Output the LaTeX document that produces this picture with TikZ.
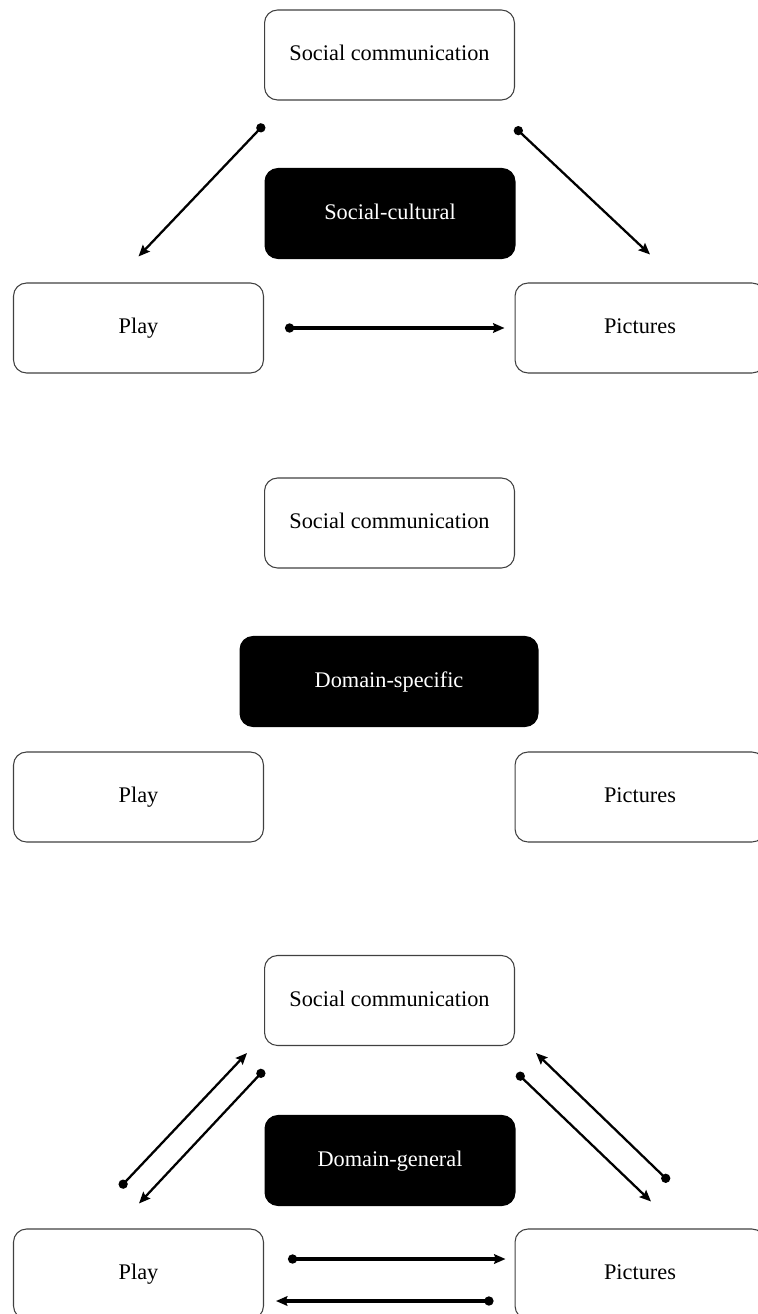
\documentclass[tikz,border=0pt]{standalone}
\usepackage{fontspec}
\setmainfont{Liberation Serif}
\usetikzlibrary{arrows.meta}

\tikzset{
    box/.style={draw=black!75, line width=0.6pt, rounded corners=0.26cm, minimum width=5cm, minimum height=1.8cm, text height=0.68em, text depth=0pt, font=\fontsize{12.7}{15}\selectfont},
    darkbox/.style={box, fill=black, draw=black, text=white},
    link/.style={line width=1.3pt, {Circle[length=5.2pt]}-{Stealth[length=6.5pt, width=5.5pt, inset=1pt]}},
    flatlink/.style={link, line width=1.8pt}
}

\begin{document}
\begin{tikzpicture}[x=0.02cm, y=-0.02cm]
            \useasboundingbox (0,0) rectangle (757,1314);

            \node[box] (sc1) at (389.5, 55) {Social communication};
            \node[darkbox] (cult) at (390, 213.5) {Social-cultural};
            \node[box] (play1) at (138.5, 328) {Play};
            \node[box] (pic1) at (640, 328) {Pictures};

            \draw[link] ([shift={(0,24)}]sc1.south west) to ([shift={(0,-26)}]play1.north);
            \draw[link] ([shift={(0,27)}]sc1.south east) to ([shift={(10,-28)}]pic1.north);
            \draw[flatlink] ([shift={(21,0)}]play1.east) to ([shift={(-10,0)}]pic1.west);

            \node[box] (sc2) at (389.5, 523) {Social communication};
            \node[darkbox, minimum width=5.96cm] (spec) at (389, 681.5) {Domain-specific};
            \node[box] (play2) at (138.5, 797) {Play};
            \node[box] (pic2) at (640, 797) {Pictures};

            \node[box] (sc3) at (389.5, 1000.5) {Social communication};
            \node[darkbox] (gen) at (390, 1160.5) {Domain-general};
            \node[box] (play3) at (138.5, 1274) {Play};
            \node[box] (pic3) at (640, 1274) {Pictures};

            \draw[link] ([shift={(-18.5,-41)}]play3.north) to ([shift={(-17,7)}]sc3.south west);
            \draw[link] ([shift={(0,24)}]sc3.south west) to ([shift={(0.5,-25)}]play3.north);
            \draw[link] ([shift={(2,27)}]sc3.south east) to ([shift={(11,-27)}]pic3.north);
            \draw[link] ([shift={(29,-47)}]pic3.north) to ([shift={(21,7)}]sc3.south east);
            \draw[flatlink] ([shift={(24,-15)}]play3.east) to ([shift={(-9,-15)}]pic3.west);
            \draw[flatlink] ([shift={(-21,27)}]pic3.west) to ([shift={(12,27)}]play3.east);
      \end{tikzpicture}
\end{document}
